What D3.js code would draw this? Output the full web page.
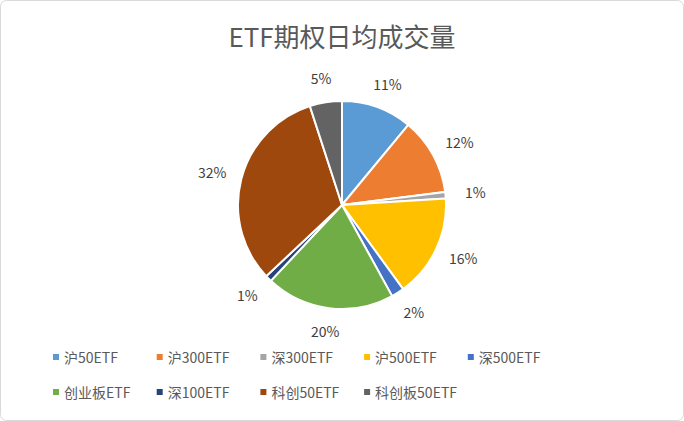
<!DOCTYPE html>
<html><head><meta charset="utf-8">
<script src="https://cdn.jsdelivr.net/npm/d3@7"></script>
<style>body{margin:0;background:#fff}text{font-family:"Noto Sans CJK SC","Open Sans",sans-serif}</style>
</head><body>
<svg width="684" height="421"></svg>
<script>
var categories = ['沪50ETF','沪300ETF','深300ETF','沪500ETF','深500ETF','创业板ETF','深100ETF','科创50ETF','科创板50ETF'];
var values = [11, 12, 1, 16, 2, 20, 1, 32, 5];
var colors = ['#5B9BD5','#ED7D31','#A5A5A5','#FFC000','#4472C4','#70AD47','#264478','#9E480E','#636363'];

var svg = d3.select('svg');
svg.append('rect').attr('x', 0.5).attr('y', 0.5).attr('width', 683).attr('height', 420)
	.attr('rx', 6).attr('fill', '#fff').attr('stroke', '#d9d9d9');

svg.append('text').attr('x', 342).attr('y', 47).attr('text-anchor', 'middle')
	.attr('font-size', 26).attr('fill', '#595959').text('ETF期权日均成交量');

var cx = 342, cy = 205, r = 104;
var pie = d3.pie().sort(null)(values);
var arc = d3.arc().innerRadius(0).outerRadius(r);
var g = svg.append('g').attr('transform', 'translate(' + cx + ',' + cy + ')');
g.selectAll('path').data(pie).enter().append('path')
	.attr('d', arc)
	.attr('fill', function(d, i) {return colors[i];})
	.attr('stroke', '#fff').attr('stroke-width', 2);

var labelArc = d3.arc().innerRadius(128).outerRadius(128);
g.selectAll('text.lbl').data(pie).enter().append('text')
	.attr('class', 'lbl')
	.attr('transform', function(d) {
		var c = labelArc.centroid(d);
		var mid = (d.startAngle + d.endAngle) / 2;
		return 'translate(' + (c[0] + 6 * Math.sin(mid)) + ',' + (c[1] + 5) + ')';
	})
	.attr('text-anchor', 'middle')
	.attr('font-size', 14).attr('fill', '#404040')
	.text(function(d) {return d.data + '%';});

// legend: 5 columns, 2 rows
var leg = svg.selectAll('g.leg').data(categories).enter().append('g')
	.attr('class', 'leg')
	.attr('transform', function(d, i) {
		return 'translate(' + (53 + (i % 5) * 103.7) + ',' + (358 + Math.floor(i / 5) * 35) + ')';
	});
leg.append('rect').attr('x', 0).attr('y', -4).attr('width', 6).attr('height', 6)
	.attr('fill', function(d, i) {return colors[i];});
leg.append('text').attr('x', 11).attr('y', 5).attr('font-size', 14).attr('fill', '#595959')
	.text(function(d) {return d;});
</script>
</body></html>
